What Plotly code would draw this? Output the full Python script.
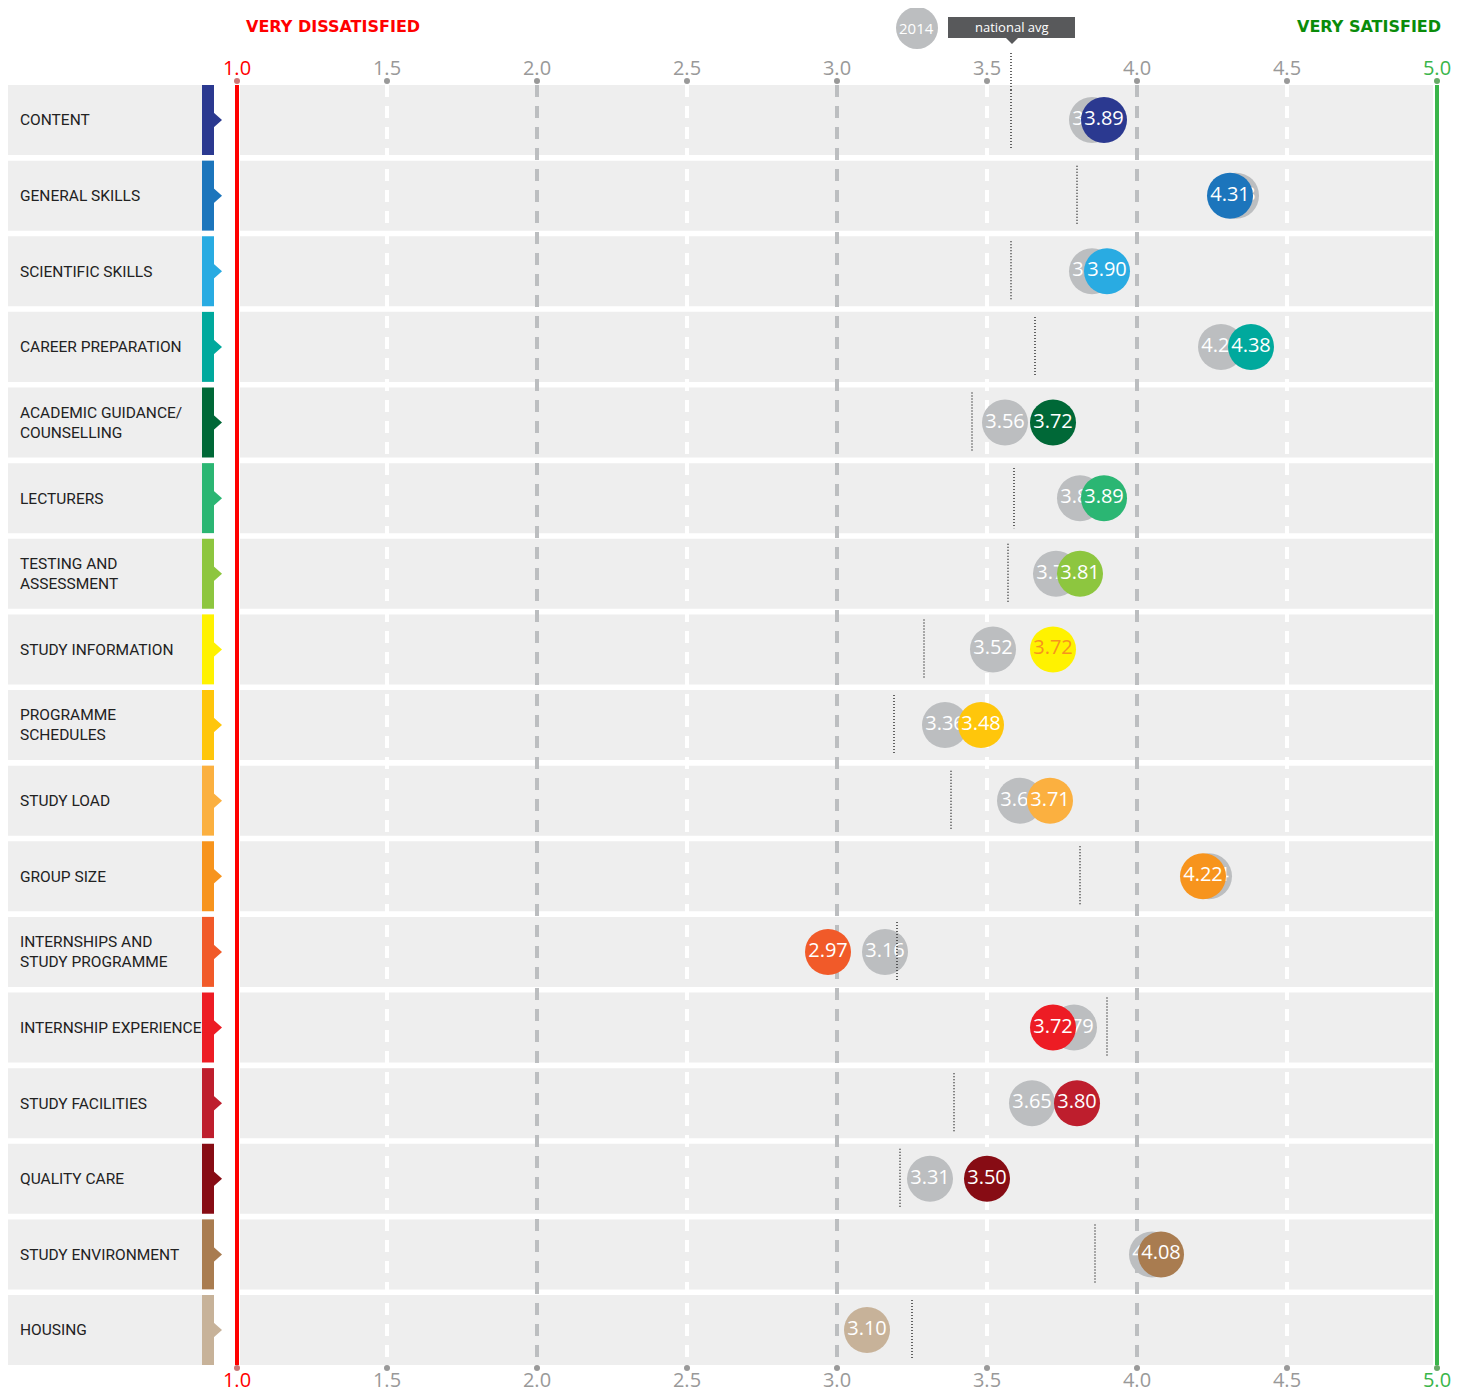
import plotly.graph_objects as go

categories = ["CONTENT", "GENERAL SKILLS", "SCIENTIFIC SKILLS", "CAREER PREPARATION",
              "ACADEMIC GUIDANCE/<br>COUNSELLING", "LECTURERS", "TESTING AND<br>ASSESSMENT",
              "STUDY INFORMATION", "PROGRAMME<br>SCHEDULES", "STUDY LOAD", "GROUP SIZE",
              "INTERNSHIPS AND<br>STUDY PROGRAMME", "INTERNSHIP EXPERIENCE", "STUDY FACILITIES",
              "QUALITY CARE", "STUDY ENVIRONMENT", "HOUSING"]
scores_2015 = [3.89, 4.31, 3.90, 4.38, 3.72, 3.89, 3.81, 3.72, 3.48, 3.71, 4.22, 2.97, 3.72, 3.80, 3.50, 4.08, 3.10]
scores_2014 = [3.85, 4.33, 3.85, 4.28, 3.56, 3.81, 3.73, 3.52, 3.36, 3.61, 4.24, 3.16, 3.79, 3.65, 3.31, 4.05, None]
national_avg = [3.58, 3.80, 3.58, 3.66, 3.45, 3.59, 3.57, 3.29, 3.19, 3.38, 3.81, 3.20, 3.90, 3.39, 3.21, 3.86, 3.25]
colors = ["#2b3990", "#1c75bc", "#29abe2", "#00a99d", "#006837", "#2bb673", "#8dc63f", "#fff200",
          "#ffc60b", "#fbb040", "#f7941d", "#f15a29", "#ed1c24", "#be1e2d", "#870c14", "#a97c50", "#c7b299"]
text_colors = ["white"] * 7 + ["#f7941d"] + ["white"] * 9
tick_vals = [1.0, 1.5, 2.0, 2.5, 3.0, 3.5, 4.0, 4.5, 5.0]
tick_labels = ["1.0", "1.5", "2.0", "2.5", "3.0", "3.5", "4.0", "4.5", "5.0"]

# page offset of the figure (default body margin)
OX, OY = 8, 8
W, H = 1469 - OX, 1390 - OY
PLOT_TOP, PLOT_BOT = 85, 1365          # page pixels
MT = PLOT_TOP - OY
MB = H - (PLOT_BOT - OY)
PH = PLOT_BOT - PLOT_TOP
PPU_X = 300.0
PPU_Y = 75.625
X0 = 1 - (237 - OX) / PPU_X
X1 = X0 + W / PPU_X
HALF = 35 / PPU_Y
Y_TOP = -HALF
Y_BOT = Y_TOP + PH / PPU_Y

GRAY = "#bcbec0"
BAND = "#eeeeee"
RED = "#ff0000"
GREEN = "#39b54a"
DOT = "#333333"


def dx(p):
    return X0 + (p - OX) / PPU_X


def px(p):
    return (p - OX) / W


def py(p):
    return (PLOT_BOT - p) / PH


n = len(categories)
ys = list(range(n))

shapes = []
for i in ys:
    shapes.append(dict(type="rect", xref="paper", yref="y", x0=px(6), x1=px(202), y0=i - HALF, y1=i + HALF,
                       fillcolor=BAND, line=dict(width=0), layer="below"))
    shapes.append(dict(type="rect", xref="x", yref="y", x0=dx(240), x1=dx(1433), y0=i - HALF, y1=i + HALF,
                       fillcolor=BAND, line=dict(width=0), layer="below"))
    shapes.append(dict(type="rect", xref="paper", yref="y", x0=px(202), x1=px(214), y0=i - HALF, y1=i + HALF,
                       fillcolor=colors[i], line=dict(width=0), layer="below"))
    t = 8 / PPU_Y
    shapes.append(dict(type="path", xref="paper", yref="y",
                       path=f"M {px(213)},{i - t} L {px(222)},{i} L {px(213)},{i + t} Z",
                       fillcolor=colors[i], line=dict(width=0), layer="below"))

for v in tick_vals[1:-1]:
    col = GRAY if abs(v - round(v)) < 1e-9 else "white"
    shapes.append(dict(type="line", xref="x", yref="y", x0=v, x1=v, y0=Y_TOP, y1=Y_BOT,
                       line=dict(color=col, width=4, dash="12px,9px"), layer="below"))

shapes.append(dict(type="line", xref="x", yref="y", x0=1.0, x1=1.0, y0=Y_TOP, y1=Y_BOT,
                   line=dict(color=RED, width=4), layer="below"))
shapes.append(dict(type="line", xref="x", yref="y", x0=5.0, x1=5.0, y0=Y_TOP, y1=Y_BOT,
                   line=dict(color=GREEN, width=4), layer="below"))

# tick dots
r = 3 / PPU_X
for v in tick_vals:
    for yy in (81, 1368):
        c = "#c77" if v == 1.0 else ("#6a6" if v == 5.0 else "#999999")
        shapes.append(dict(type="circle", xref="x", yref="paper", x0=v - r, x1=v + r,
                           y0=py(yy + 3), y1=py(yy - 3), fillcolor=c, line=dict(width=0), layer="above"))

# national average markers
for i, a in enumerate(national_avg):
    shapes.append(dict(type="line", xref="x", yref="y", x0=a, x1=a, y0=i - 30 / PPU_Y, y1=i + 30 / PPU_Y,
                       line=dict(color=DOT, width=1.5, dash="1px,2px"), layer="above"))
shapes.append(dict(type="line", xref="x", yref="paper", x0=national_avg[0], x1=national_avg[0],
                   y0=py(90), y1=py(52), line=dict(color=DOT, width=1.5, dash="1px,2px"), layer="above"))

# legend items
shapes.append(dict(type="circle", xref="paper", yref="paper", x0=px(896), x1=px(938), y0=py(49), y1=py(7),
                   fillcolor=GRAY, line=dict(width=0)))
shapes.append(dict(type="rect", xref="paper", yref="paper", x0=px(948), x1=px(1075), y0=py(38), y1=py(17),
                   fillcolor="#58595b", line=dict(width=0)))
shapes.append(dict(type="path", xref="paper", yref="paper",
                   path=f"M {px(1006)},{py(38)} L {px(1018)},{py(38)} L {px(1012)},{py(44)} Z",
                   fillcolor="#58595b", line=dict(width=0)))

fig = go.Figure()
g_x = [v for v in scores_2014 if v is not None]
g_y = [i for i, v in enumerate(scores_2014) if v is not None]
fig.add_trace(go.Scatter(
    x=g_x, y=g_y, mode="markers+text",
    marker=dict(size=46, color=GRAY, line=dict(width=0)),
    text=[f"{v:.2f}" for v in g_x], textposition="middle center",
    textfont=dict(family="Open Sans", size=20, color="white"),
    cliponaxis=False, hoverinfo="skip", showlegend=False))
fig.add_trace(go.Scatter(
    x=scores_2015, y=ys, mode="markers+text",
    marker=dict(size=46, color=colors, line=dict(width=0)),
    text=[f"{v:.2f}" for v in scores_2015], textposition="middle center",
    textfont=dict(family="Open Sans", size=20, color=text_colors),
    cliponaxis=False, hoverinfo="skip", showlegend=False))
fig.add_trace(go.Scatter(x=[1, 5], y=[0, 0], xaxis="x2", mode="markers",
                         marker=dict(opacity=0), hoverinfo="skip", showlegend=False))

tick_text = []
for v, t in zip(tick_vals, tick_labels):
    if v == 1.0:
        tick_text.append(f"<span style='color:{RED}'>{t}</span>")
    elif v == 5.0:
        tick_text.append(f"<span style='color:{GREEN}'>{t}</span>")
    else:
        tick_text.append(t)

axis_common = dict(range=[X0, X1], tickvals=tick_vals, ticktext=tick_text, showgrid=False, zeroline=False,
                   showline=False, ticks="", tickfont=dict(family="Open Sans", size=20, color="#999999"),
                   fixedrange=True, automargin=False)

annotations = [
    dict(xref="paper", yref="paper", x=px(244), y=py(27), text="VERY DISSATISFIED", showarrow=False,
         xanchor="left", yanchor="middle", font=dict(family="DejaVu Sans", size=16, color=RED, weight="bold")),
    dict(xref="paper", yref="paper", x=px(1443), y=py(27), text="VERY SATISFIED", showarrow=False,
         xanchor="right", yanchor="middle", font=dict(family="DejaVu Sans", size=16, color="#0a8c0a", weight="bold")),
    dict(xref="paper", yref="paper", x=px(917), y=py(28), text="2014", showarrow=False,
         xanchor="center", yanchor="middle", font=dict(family="Open Sans", size=15, color="white")),
    dict(xref="paper", yref="paper", x=px(1012), y=py(27), text="national avg", showarrow=False,
         xanchor="center", yanchor="middle", font=dict(family="Open Sans", size=13, color="white")),
]

fig.update_layout(
    width=W, height=H, margin=dict(l=0, r=0, t=MT, b=MB, autoexpand=False),
    paper_bgcolor="white", plot_bgcolor="white",
    xaxis=dict(side="bottom", anchor="y", ticklabelstandoff=1, **axis_common),
    xaxis2=dict(side="top", overlaying="x", anchor="y", ticklabelstandoff=5, **axis_common),
    yaxis=dict(range=[Y_BOT, Y_TOP], tickvals=ys, ticktext=categories, ticklabelposition="inside",
               ticklabelstandoff=9, showgrid=False, zeroline=False, showline=False, ticks="",
               tickfont=dict(family="Roboto", size=15.5, color="#222222"),
               fixedrange=True, automargin=False),
    shapes=shapes, annotations=annotations, hovermode=False,
)

fig.write_html("out.html")
